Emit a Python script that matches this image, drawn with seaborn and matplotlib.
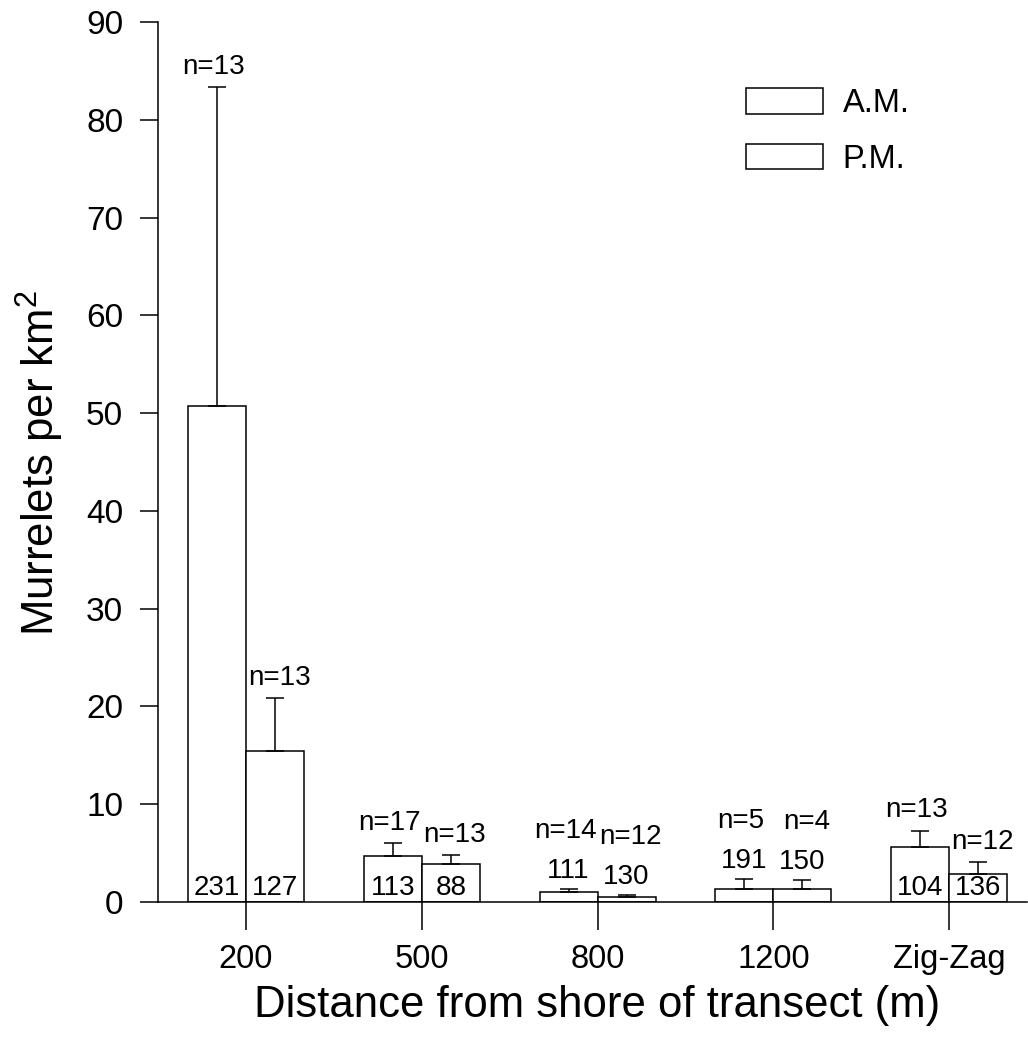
import numpy as np
import pandas as pd
import matplotlib
matplotlib.use("Agg")
import matplotlib.pyplot as plt
import seaborn as sns

# --- data ---
categories = ["200", "500", "800", "1200", "Zig-Zag"]
periods = ["A.M.", "P.M."]
am_mean = [50.7, 4.7, 1.05, 1.3, 5.65]
am_se = [32.6, 1.3, 0.25, 1.05, 1.65]
pm_mean = [15.4, 3.85, 0.55, 1.3, 2.9]
pm_se = [5.45, 0.95, 0.15, 0.95, 1.2]
am_n = [13, 17, 14, 5, 13]
pm_n = [13, 13, 12, 4, 12]
am_count = [231, 113, 111, 191, 104]
pm_count = [127, 88, 130, 150, 136]

df = pd.DataFrame({
    "distance": categories * 2,
    "period": [periods[0]] * 5 + [periods[1]] * 5,
    "density": am_mean + pm_mean,
})

sns.set_style("ticks")
plt.rcParams["font.family"] = ["Liberation Sans", "DejaVu Sans"]
plt.rcParams["mathtext.fontset"] = "custom"
plt.rcParams["mathtext.rm"] = "Liberation Sans"
plt.rcParams["mathtext.it"] = "Liberation Sans:italic"
for key in ["text.color", "axes.labelcolor", "xtick.color", "ytick.color", "axes.edgecolor"]:
    plt.rcParams[key] = "black"

LW = 1.1
FS = 20
fig = plt.figure(figsize=(10.28, 10.46), dpi=100)
ax = fig.add_axes([0.1537, 0.1377, 0.845, 0.8413])

sns.barplot(data=df, x="distance", y="density", hue="period", order=categories,
            hue_order=periods, palette=["white", "white"], edgecolor="black",
            linewidth=LW, width=0.66, gap=0, errorbar=None, saturation=1, ax=ax)

# error bars (upper only) + labels, positioned from the drawn bars
for cont, se, ns, counts, dx in zip(ax.containers, [am_se, pm_se], [am_n, pm_n],
                                    [am_count, pm_count], [-2.5, 3]):
    xs = [b.get_x() + b.get_width() / 2 for b in cont]
    hs = [b.get_height() for b in cont]
    ax.errorbar(xs, hs, yerr=[np.zeros(len(se)), se], fmt="none", ecolor="black",
                elinewidth=LW, capsize=6.5, capthick=LW)
    for x, h, s, n, c in zip(xs, hs, se, ns, counts):
        top = h + s
        if h >= 2:
            # count inside the bar, n above the error cap
            ax.annotate(str(c), (x, 0), xytext=(0, 10), textcoords="offset points",
                        ha="center", va="center", fontsize=FS)
            ax.annotate(f"n={n}", (x, top), xytext=(dx, 14.5), textcoords="offset points",
                        ha="center", va="center", fontsize=FS)
        else:
            # bar too short: count above the cap, n above the count
            ax.annotate(str(c), (x, top), xytext=(0, 13), textcoords="offset points",
                        ha="center", va="center", fontsize=FS)
            ax.annotate(f"n={n}", (x, top), xytext=(dx, 42), textcoords="offset points",
                        ha="center", va="center", fontsize=FS)

ax.set_xlim(-0.5, 4.44)
ax.set_ylim(0, 90)
ax.set_yticks(range(0, 91, 10))
sns.despine(ax=ax)
for sp in ["left", "bottom"]:
    ax.spines[sp].set_linewidth(LW)

ax.tick_params(axis="x", direction="out", length=20, width=LW, pad=10, labelsize=23.5)
ax.tick_params(axis="y", direction="out", length=13, width=LW, pad=12, labelsize=24)

ax.set_xlabel("Distance from shore of transect (m)", fontsize=31.5)
ax.set_ylabel("Murrelets per km$^2$", fontsize=31.5)
ax.xaxis.set_label_coords(0.506, -0.094)
ax.yaxis.set_label_coords(-0.106, 0.499)

ax.legend(loc="upper left", bbox_to_anchor=(0.677, 0.925), frameon=False,
          fontsize=23.5, handlelength=2.36, handleheight=0.83, handletextpad=0.6,
          labelspacing=0.75, borderpad=0, borderaxespad=0)

fig.savefig("out.png", dpi=100)
